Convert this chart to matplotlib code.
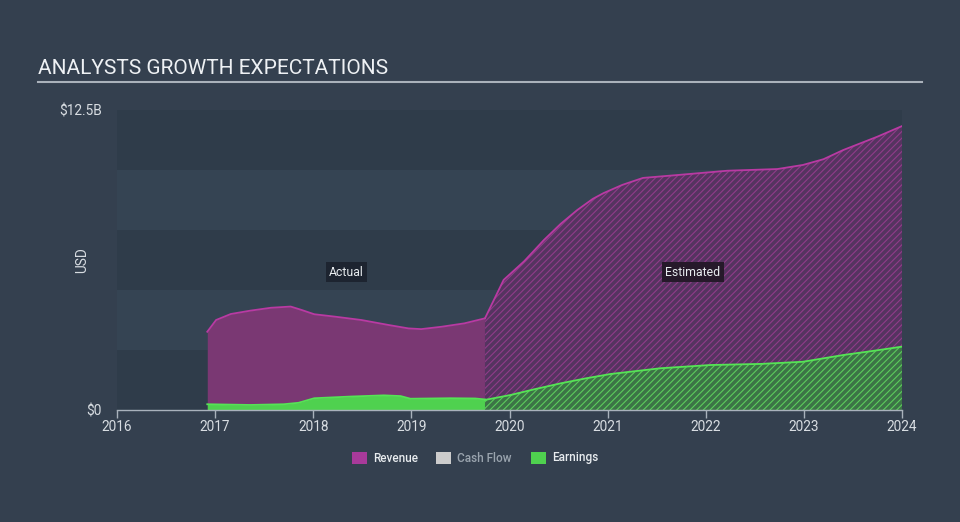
import matplotlib
matplotlib.use("Agg")
import matplotlib.pyplot as plt
from matplotlib.patches import Rectangle

plt.rcParams['font.family'] = ['Roboto', 'DejaVu Sans']
plt.rcParams['hatch.linewidth'] = 0.8

# ---- data (USD billions) ----
rev_act_x = [2016.92, 2017.01, 2017.16, 2017.36, 2017.57, 2017.77, 2017.88, 2018.01,
             2018.22, 2018.49, 2018.77, 2018.97, 2019.10, 2019.31, 2019.54, 2019.75]
rev_act_y = [3.26, 3.75, 4.00, 4.14, 4.26, 4.31, 4.17, 3.99,
             3.89, 3.75, 3.54, 3.40, 3.37, 3.47, 3.61, 3.82]
earn_act_x = [2016.92, 2017.36, 2017.70, 2017.85, 2018.01, 2018.38, 2018.72, 2018.89,
              2018.99, 2019.40, 2019.65, 2019.75]
earn_act_y = [0.24, 0.21, 0.24, 0.30, 0.49, 0.56, 0.61, 0.58,
              0.47, 0.49, 0.48, 0.44]

rev_est_x = [2019.75, 2019.94, 2020.15, 2020.35, 2020.52, 2020.69, 2020.85, 2020.96,
             2021.15, 2021.36, 2021.71, 2022.22, 2022.73, 2022.99, 2023.20, 2023.40,
             2023.75, 2024.0]
rev_est_y = [3.82, 5.42, 6.20, 7.08, 7.75, 8.33, 8.80, 9.04,
             9.38, 9.67, 9.79, 9.97, 10.04, 10.21, 10.45, 10.83,
             11.39, 11.83]
earn_est_x = [2019.75, 2020.01, 2020.25, 2020.52, 2020.78, 2021.03, 2021.54, 2022.05,
              2022.56, 2022.99, 2023.40, 2023.70, 2024.0]
earn_est_y = [0.42, 0.625, 0.86, 1.11, 1.32, 1.50, 1.74, 1.875,
              1.92, 2.01, 2.29, 2.46, 2.64]

x_ticks = [2016, 2017, 2018, 2019, 2020, 2021, 2022, 2023, 2024]
y_max = 12.5
legend_labels = ['Revenue', 'Cash Flow', 'Earnings']

# ---- style ----
BG = '#34404f'
BAND_DARK = '#2f3c4a'
BAND_LIGHT = '#354453'
REV_FILL = '#7a3873'
REV_LINE = '#b93aa3'
EARN_FILL = '#4fd14f'
EARN_LINE = '#55e455'
CASH = '#cccccc'

fig = plt.figure(figsize=(9.6, 5.22), dpi=100, facecolor=BG)
ax = fig.add_axes([117/960, 1-410/522, 785/960, 300/522])
ax.set_facecolor(BG)

# horizontal bands
for i in range(5):
    ax.axhspan(i*2.5, (i+1)*2.5, color=(BAND_DARK if i % 2 == 0 else BAND_LIGHT), lw=0, zorder=0)

# actual
ax.fill_between(rev_act_x, 0, rev_act_y, color=REV_FILL, lw=0, zorder=2)
ax.plot(rev_act_x, rev_act_y, color=REV_LINE, lw=1.3, zorder=3)
ax.fill_between(earn_act_x, 0, earn_act_y, color=EARN_FILL, lw=0, zorder=4)
ax.plot(earn_act_x, earn_act_y, color=EARN_LINE, lw=1.3, zorder=5)

# estimated (hatched)
ax.fill_between(rev_est_x, 0, rev_est_y, facecolor='#553460', edgecolor='#903c8a',
                hatch='/////', lw=0, zorder=2)
ax.plot(rev_est_x, rev_est_y, color=REV_LINE, lw=1.3, zorder=3)
ax.fill_between(earn_est_x, 0, earn_est_y, facecolor='#3c7446', edgecolor='#5ccc5c',
                hatch='/////', lw=0, zorder=4)
ax.plot(earn_est_x, earn_est_y, color=EARN_LINE, lw=1.3, zorder=5)

ax.set_xlim(2016, 2024.0)
ax.set_ylim(0, y_max)

for s in ['left', 'right', 'top']:
    ax.spines[s].set_visible(False)
ax.spines['bottom'].set_color('#a9b2bc')
ax.spines['bottom'].set_linewidth(1.0)
ax.spines['bottom'].set_zorder(6)

ax.set_xticks(x_ticks)
ax.set_xticklabels([str(t) for t in x_ticks])
ax.tick_params(axis='x', direction='out', length=6, width=1, color='#a9b2bc',
               labelcolor='#d8dde2', labelsize=9.8, pad=1)
ax.set_yticks([0, y_max])
ax.set_yticklabels(['$0', '$12.5B'])
ax.tick_params(axis='y', length=0, labelcolor='#d8dde2', labelsize=9.8, pad=11)
ax.set_ylabel('USD', color='#d8dde2', fontsize=9.8)
ax.yaxis.set_label_coords(-0.035, 0.5)

# annotations
ax.text(2018.34, 5.75, 'Actual', ha='center', va='center', color='#e8ecef', fontsize=8.8,
        bbox=dict(boxstyle='square,pad=0.25', facecolor='#1d2430', edgecolor='none'), zorder=7)
ax.text(2021.87, 5.75, 'Estimated', ha='center', va='center', color='#e8ecef', fontsize=8.8,
        bbox=dict(boxstyle='square,pad=0.25', facecolor='#26192a', edgecolor='none'), zorder=7)

# title
fig.text(38/960, 1-68/522, 'ANALYSTS GROWTH EXPECTATIONS', color='#eef1f4', fontsize=15,
         va='center', ha='left')
fig.add_artist(plt.Line2D([38/960, 922/960], [1-82/522, 1-82/522], color='#aab2bb', lw=1.5))

# legend (manual)
leg_colors = ['#a83a9a', CASH, EARN_FILL]
leg_text_colors = ['#e8ecef', '#9aa4ae', '#e8ecef']
leg_x = [352, 436, 531]
for lab, c, tc, lx in zip(legend_labels, leg_colors, leg_text_colors, leg_x):
    fig.add_artist(Rectangle((lx/960, 1-464/522), 15/960, 12/522, transform=fig.transFigure,
                             facecolor=c, edgecolor='none'))
    fig.text((lx+21)/960, 1-458/522, lab, color=tc, fontsize=8.5, va='center', ha='left',
             fontweight='medium')

fig.savefig('out.png', dpi=100, facecolor=BG)
